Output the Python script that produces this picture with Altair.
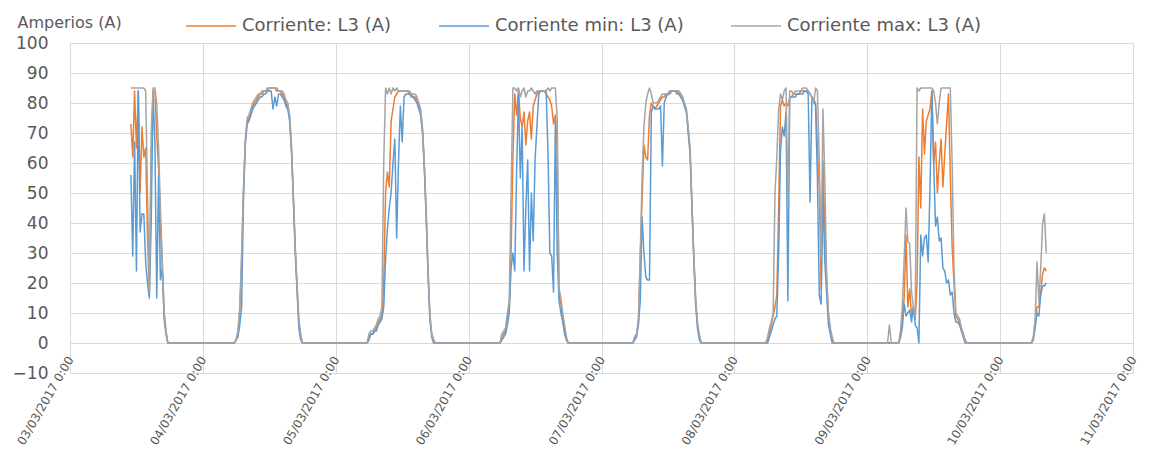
import altair as alt
import pandas as pd

# ---- series names / colours -------------------------------------------------
SERIES = ["Corriente: L3 (A)", "Corriente min: L3 (A)", "Corriente max: L3 (A)"]
COLORS = ["#ED7D31", "#5B9BD5", "#A5A5A5"]

# ---- sampled readings (20-minute steps), one block per day ------------------
day_dates = ["2017-03-03", "2017-03-04", "2017-03-05", "2017-03-06",
             "2017-03-07", "2017-03-08", "2017-03-09", "2017-03-10"]
day_starts = ["11:00", "05:40", "05:40", "05:40", "05:40", "05:40", "03:40", "05:40"]

d1_cur = [73, 62, 84, 65, 84, 50, 72, 62, 65, 35, 17, 60, 84, 84, 69, 58, 40, 25, 10, 4, 0]
d1_min = [56, 29, 67, 24, 84, 37, 43, 43, 27, 20, 15, 40, 83, 67, 15, 56, 21, 25, 8, 3, 0]
d1_max = [85, 85, 85, 85, 85, 85, 85, 85, 84, 50, 17, 70, 85, 85, 80, 65, 45, 28, 11, 4, 0]

d2_cur = [0, 1, 3, 11, 28, 50, 67, 74, 75, 77, 79, 80, 81, 82, 83, 83, 84, 84, 84, 85,
          85, 85, 85, 84, 84, 84, 83, 82, 80, 79, 75, 65, 49, 32, 19, 7, 2, 0, 0]
d2_min = [0, 1, 2, 6, 12, 48, 66, 73, 74, 76, 78, 79, 80, 81, 82, 82, 83, 83, 84, 84,
          84, 78, 82, 79, 83, 83, 82, 81, 79, 78, 74, 64, 48, 31, 18, 5, 1, 0, 0]
d2_max = [0, 1, 4, 12, 30, 52, 68, 75, 76, 78, 80, 81, 82, 83, 83, 84, 84, 84, 85, 85,
          85, 85, 85, 85, 84, 84, 84, 83, 81, 80, 76, 66, 50, 33, 20, 8, 3, 0, 0]

d3_cur = [0, 2, 3, 3, 4, 5, 7, 8, 9, 20, 50, 57, 52, 74, 78, 82, 83, 84, 84, 84,
          84, 84, 84, 83, 83, 82, 82, 81, 79, 77, 71, 59, 43, 24, 9, 3, 1, 0]
d3_min = [0, 1, 3, 3, 4, 4, 6, 7, 8, 12, 28, 38, 45, 50, 60, 68, 35, 60, 79, 67,
          82, 83, 83, 83, 82, 82, 81, 80, 78, 76, 70, 58, 42, 23, 8, 2, 0, 0]
d3_max = [0, 3, 4, 4, 5, 6, 8, 9, 12, 60, 85, 83, 85, 83, 85, 84, 85, 84, 84, 84,
          84, 84, 84, 84, 83, 83, 83, 82, 80, 78, 72, 60, 44, 25, 10, 3, 1, 0]

d4_cur = [0, 2, 3, 4, 8, 12, 30, 62, 83, 76, 84, 75, 72, 77, 66, 74, 77, 68, 79, 81,
          83, 84, 84, 84, 84, 83, 82, 81, 79, 73, 76, 65, 16, 13, 8, 4, 1, 0]
d4_min = [0, 1, 2, 3, 6, 10, 25, 30, 24, 57, 83, 55, 72, 24, 45, 61, 24, 50, 34, 61,
          72, 83, 84, 84, 84, 84, 64, 30, 29, 17, 74, 30, 14, 10, 7, 3, 1, 0]
d4_max = [0, 3, 4, 5, 10, 14, 50, 85, 85, 84, 85, 82, 84, 85, 82, 84, 84, 85, 84, 83,
          84, 84, 84, 84, 84, 84, 85, 84, 85, 85, 85, 75, 18, 15, 10, 6, 2, 0]

d5_cur = [0, 2, 3, 7, 28, 48, 66, 62, 61, 76, 80, 79, 78, 79, 80, 81, 82, 82, 83, 83,
          84, 84, 84, 84, 84, 83, 82, 81, 79, 77, 71, 64, 46, 29, 14, 6, 2, 0]
d5_min = [0, 1, 2, 6, 14, 42, 30, 22, 21, 21, 77, 79, 78, 78, 78, 79, 59, 80, 82, 83,
          83, 84, 84, 84, 83, 83, 82, 81, 79, 77, 70, 63, 45, 28, 13, 5, 1, 0]
d5_max = [0, 2, 3, 8, 30, 55, 72, 80, 83, 85, 83, 80, 80, 80, 81, 82, 83, 83, 83, 83,
          84, 84, 84, 84, 84, 84, 83, 82, 80, 78, 72, 65, 47, 30, 15, 7, 3, 0]

d6_cur = [0, 1, 3, 6, 9, 12, 16, 45, 79, 81, 79, 80, 79, 82, 82, 83, 83, 83, 83, 84,
          84, 84, 84, 84, 83, 82, 81, 80, 65, 52, 18, 61, 38, 21, 9, 4, 1, 0]
d6_min = [0, 0, 2, 4, 6, 8, 9, 30, 64, 72, 69, 77, 14, 82, 82, 82, 82, 83, 83, 83,
          83, 84, 84, 83, 47, 82, 81, 79, 55, 16, 13, 50, 27, 16, 6, 3, 0, 0]
d6_max = [0, 2, 5, 7, 10, 50, 62, 78, 83, 81, 84, 85, 47, 84, 84, 83, 84, 84, 84, 84,
          85, 85, 85, 84, 83, 82, 80, 85, 84, 61, 28, 78, 55, 22, 10, 5, 2, 0]

d7_cur = [0, 0, 0, 0, 0, 0, 0, 2, 8, 15, 36, 12, 18, 9, 12, 8, 20, 62, 45, 78,
          63, 74, 76, 78, 84, 60, 67, 50, 60, 68, 52, 63, 73, 83, 56, 32, 20, 9, 8, 7,
          5, 3, 1, 0]
d7_min = [0, 0, 0, 0, 0, 0, 0, 2, 5, 13, 9, 10, 11, 7, 12, 6, 5, 0, 36, 29,
          35, 36, 27, 52, 84, 60, 39, 42, 34, 35, 25, 24, 20, 21, 16, 17, 10, 7, 7, 6,
          4, 2, 0, 0]
d7_max = [0, 6, 0, 0, 0, 0, 0, 4, 12, 28, 45, 34, 33, 17, 12, 9, 85, 84, 85, 85,
          85, 85, 85, 85, 85, 84, 80, 73, 80, 85, 85, 85, 85, 85, 85, 60, 25, 10, 9, 8,
          5, 3, 1, 0]

d8_cur = [0, 2, 7, 12, 12, 17, 23, 25, 24]
d8_min = [0, 1, 5, 10, 9, 16, 19, 19, 20]
d8_max = [0, 2, 8, 27, 14, 25, 40, 43, 30]

y_ticks = [-10, 0, 10, 20, 30, 40, 50, 60, 70, 80, 90, 100]
x_tick_days = [3, 4, 5, 6, 7, 8, 9, 10, 11]

# ---- build long table --------------------------------------------------------
blocks = [
    (d1_cur, d1_min, d1_max), (d2_cur, d2_min, d2_max), (d3_cur, d3_min, d3_max),
    (d4_cur, d4_min, d4_max), (d5_cur, d5_min, d5_max), (d6_cur, d6_min, d6_max),
    (d7_cur, d7_min, d7_max), (d8_cur, d8_min, d8_max),
]
rows = []
for date, start, trio in zip(day_dates, day_starts, blocks):
    t0 = pd.Timestamp(f"{date} {start}")
    for name, vals in zip(SERIES, trio):
        for i, v in enumerate(vals):
            t = t0 + pd.Timedelta(minutes=20 * i)
            rows.append({"tiempo": t.strftime("%Y-%m-%dT%H:%M:%S"), "serie": name, "valor": v})
df = pd.DataFrame(rows)

FONT = "DejaVu Sans"
TXT = "#595959"

color_scale = alt.Scale(domain=SERIES, range=COLORS)

x_enc = alt.X(
    "tiempo:T",
    scale=alt.Scale(domain=[alt.DateTime(year=2017, month=3, date=3),
                            alt.DateTime(year=2017, month=3, date=11)]),
    axis=alt.Axis(
        values=[alt.DateTime(year=2017, month=3, date=d) for d in x_tick_days],
        format="%d/%m/%Y %-H:%M", formatType="time",
        labelAngle=300, labelFontSize=12, labelPadding=-16,
        title=None, grid=True, ticks=False, tickSize=0, domain=False,
    ),
)
y_enc = alt.Y(
    "valor:Q",
    scale=alt.Scale(domain=[-10, 100], nice=False, zero=False),
    axis=alt.Axis(
        values=y_ticks, labelFontSize=17, labelPadding=22,
        title="Amperios (A)", titleAngle=0, titleAlign="left", titleBaseline="middle",
        titleX=-53, titleY=-21, titleFontSize=16, titleFontWeight="normal", titleColor=TXT,
        grid=True, ticks=False, tickSize=0, domain=False,
    ),
)

legend = alt.Legend(
    title=None, orient="none", legendX=115, legendY=-43, direction="horizontal",
    symbolType="stroke", symbolSize=2500, symbolStrokeWidth=1.5,
    labelFontSize=18, labelColor=TXT, labelFont=FONT, labelOffset=5, labelLimit=0,
    columnPadding=44, padding=0,
)

layers = []
for s in SERIES:
    layers.append(
        alt.Chart(df)
        .transform_filter(alt.datum.serie == s)
        .mark_line(strokeWidth=1.5, strokeJoin="round")
        .encode(x=x_enc, y=y_enc,
                color=alt.Color("serie:N", scale=color_scale, legend=legend))
    )

chart = (
    alt.layer(*layers)
    .properties(
        width=1063, height=330,
        autosize=alt.AutoSizeParams(type="none"),
        padding={"left": 62, "top": 35, "right": 14, "bottom": 83},
        background="white",
    )
    .configure_view(stroke=None)
    .configure_axis(gridColor="#D9D9D9", gridWidth=1, labelColor=TXT, labelFont=FONT,
                    titleFont=FONT)
)

chart.save("out.html", embed_options={"renderer": "svg", "actions": False})
